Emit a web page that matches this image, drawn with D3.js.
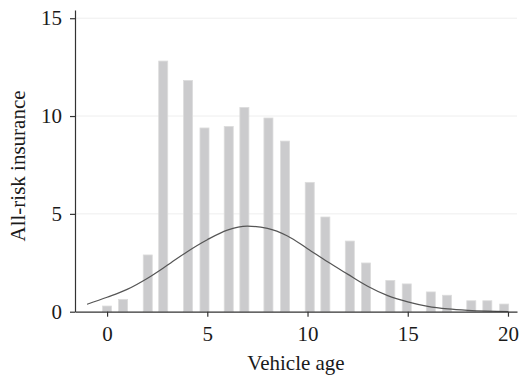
<!DOCTYPE html>
<html>
<head>
<meta charset="utf-8">
<script src="https://cdn.jsdelivr.net/npm/d3@7"></script>
<style>
  body { margin: 0; background: #fff; }
  svg text { font-family: "Liberation Serif", "Times New Roman", serif; fill: #1a1a1a; }
</style>
</head>
<body>
<svg id="chart" width="520" height="377"></svg>
<script>
// bar positions (vehicle age bins) and heights
const binX = [0, 0.8, 2.03, 2.8, 4.04, 4.86, 6.07, 6.85, 8.05, 8.88, 10.11,
  10.89, 12.11, 12.92, 14.13, 14.95, 16.15, 16.96, 18.17, 18.97, 19.81];
const binY = [0.29, 0.63, 2.9, 12.81, 11.82, 9.39, 9.47, 10.44, 9.9, 8.72, 6.61,
  4.84, 3.61, 2.49, 1.6, 1.42, 1.01, 0.84, 0.56, 0.56, 0.39];

// overlaid normal curve, sampled by eye
const curveX = [-1, 0, 1, 2, 3, 4, 5, 6, 7, 8, 9, 10, 11, 12, 13, 14, 15, 16, 17, 18, 19, 20];
const curveY = [0.38, 0.74, 1.14, 1.7, 2.37, 3.07, 3.68, 4.17, 4.37, 4.26, 3.87, 3.22,
  2.55, 1.92, 1.3, 0.82, 0.5, 0.27, 0.14, 0.07, 0.03, 0.01];

const xTicks = [0, 5, 10, 15, 20];
const yTicks = [0, 5, 10, 15];

const svg = d3.select('#chart');
const x = d3.scaleLinear().domain([-1.6, 20.45]).range([75, 517]);
const y = d3.scaleLinear().domain([0, 15.42]).range([311.7, 10]);

// faint gridlines
svg.append('g')
  .selectAll('line')
  .data(yTicks.slice(1))
  .join('line')
  .attr('x1', x.range()[0]).attr('x2', x.range()[1])
  .attr('y1', d => y(d)).attr('y2', d => y(d))
  .attr('stroke', '#eeeeee')
  .attr('stroke-width', 1);

// bars
const bw = x(0.45) - x(0);
svg.append('g')
  .selectAll('rect')
  .data(binX)
  .join('rect')
  .attr('x', d => x(d) - bw / 2)
  .attr('width', bw)
  .attr('y', (d, i) => y(binY[i]))
  .attr('height', (d, i) => y(0) - y(binY[i]))
  .attr('fill', '#cbcbcd')
  .attr('stroke', '#dcdcdc')
  .attr('stroke-width', 0.8);

// normal curve
const line = d3.line()
  .x(d => x(d[0]))
  .y(d => y(d[1]))
  .curve(d3.curveMonotoneX);
svg.append('path')
  .datum(curveX.map((d, i) => [d, curveY[i]]))
  .attr('d', line)
  .attr('fill', 'none')
  .attr('stroke', '#555')
  .attr('stroke-width', 1.2);

// axes
const xAxis = svg.append('g')
  .attr('transform', `translate(0,${y(0)})`)
  .call(d3.axisBottom(x).tickValues(xTicks).tickSize(5).tickPadding(9).tickSizeOuter(0));
const yAxis = svg.append('g')
  .attr('transform', `translate(${x.range()[0]},0)`)
  .call(d3.axisLeft(y).tickValues(yTicks).tickSize(5).tickPadding(8).tickSizeOuter(0));

[xAxis, yAxis].forEach(g => {
  g.attr('font-family', 'Liberation Serif').attr('font-size', 21);
  g.select('.domain').attr('stroke', '#333').attr('stroke-width', 1.2);
  g.selectAll('.tick line').attr('stroke', '#333').attr('stroke-width', 1.2);
  g.selectAll('.tick text').attr('fill', '#1a1a1a');
});

// axis titles
svg.append('text')
  .attr('x', 296)
  .attr('y', 370)
  .attr('text-anchor', 'middle')
  .attr('font-size', 21)
  .text('Vehicle age');

svg.append('text')
  .attr('transform', 'translate(25,166) rotate(-90)')
  .attr('text-anchor', 'middle')
  .attr('font-size', 21)
  .text('All-risk insurance');
</script>
</body>
</html>
